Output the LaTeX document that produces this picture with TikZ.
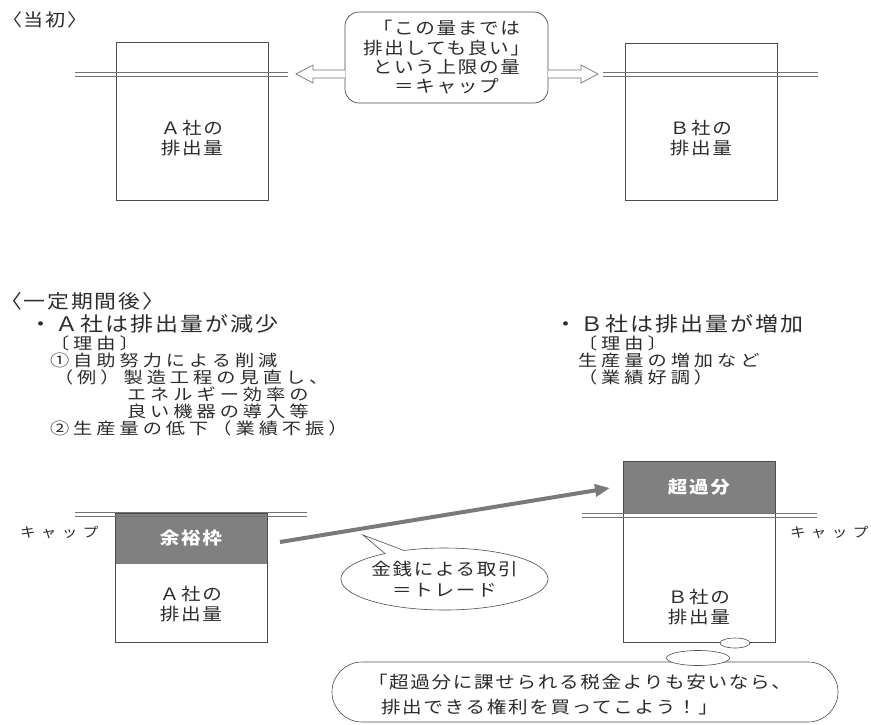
\documentclass[tikz,border=0pt]{standalone}
\usepackage{fontspec}
\setmainfont{Noto Sans CJK JP}
\newfontfamily\jp[FakeStretch=1.15,LetterSpace=10]{Noto Sans CJK JP}
\newfontfamily\jpb[FakeStretch=1.2,LetterSpace=25]{Noto Sans CJK JP}
\newfontfamily\jpw[FakeStretch=1.15,LetterSpace=40]{Noto Sans CJK JP}
\usetikzlibrary{shapes.callouts,shapes.geometric,arrows.meta,calc}
\definecolor{ink}{gray}{0.17}
\definecolor{edge}{gray}{0.3}
\definecolor{capc}{gray}{0.45}
\definecolor{darkfill}{gray}{0.5}
\begin{document}
\begin{tikzpicture}[x=1pt,y=-1pt,
  every node/.style={inner sep=0pt, outer sep=0pt, text=ink},
  ttitle/.style={font=\jp\fontsize{17.5}{18}\selectfont},
  tperiod/.style={font=\jp\fontsize{19}{20}\selectfont},
  tbody/.style={font=\jpb\fontsize{16}{17}\selectfont},
  thead/.style={font=\jp\fontsize{20}{22}\selectfont},
  tbox/.style={font=\jp\fontsize{17}{20.5}\selectfont, align=center},
  tcap/.style={font=\jpw\fontsize{13.5}{16}\selectfont},
  twhite/.style={font=\jp\bfseries\fontsize{17}{20}\selectfont, text=white},
  tbub/.style={font=\jp\fontsize{17}{25}\selectfont, align=left},
  emitbox/.style={draw=edge, line width=0.8pt, anchor=north west, minimum width=152pt},
  darkbox/.style={fill=darkfill, anchor=north west, minimum width=152pt},
  capline/.style={draw=capc, line width=0.6pt},
  hollow/.style={draw=capc, line width=0.7pt, fill=white, line join=miter},
  capbubble/.style={draw=edge, line width=0.7pt, rounded corners=14pt, minimum width=203pt, minimum height=91pt, font=\jp\fontsize{17}{19.3}\selectfont, align=center},
  trade/.style={line width=4pt, draw=black!52, -{Triangle[length=15pt,width=12pt]}},
  thoughtc/.style={draw=edge, line width=0.6pt, fill=white, ellipse},
]
\useasboundingbox (0,0) rectangle (871,724);

% ---------- top part ----------
\node[ttitle, anchor=west] (tousho) at (2,20) {〈当初〉};

\node[emitbox, minimum height=158pt] (boxA0) at (116,42) {};
\node[tbox] (labA0) at (192,138) {Ａ社の\\排出量};
\node[emitbox, minimum height=157pt] (boxB0) at (625,43) {};
\node[tbox] (labB0) at (701,138) {Ｂ社の\\排出量};

\draw[capline] (75,72) -- (288,72) (75,76) -- (288,76);
\draw[capline] (603,72) -- (818,72) (603,76) -- (818,76);

\node[capbubble] (capbox) at (446.5,57.5) {「この量までは\\排出しても良い」\\という上限の量\\＝キャップ};

\coordinate (tipL) at (296,74);
\coordinate (tipR) at (598,74);
\draw[hollow] (capbox.west |- 0,70) -- (313,70) -- (313,65) -- (tipL) -- (313,83) -- (313,78) -- (capbox.west |- 0,78);
\draw[hollow] (capbox.east |- 0,70) -- (581,70) -- (581,65) -- (tipR) -- (581,83) -- (581,78) -- (capbox.east |- 0,78);

% ---------- bottom part ----------
\node[tperiod, anchor=west] (period) at (0,301) {〈一定期間後〉};

\node[thead, anchor=west] (headA) at (29,324) {・\hspace{4pt}Ａ社は排出量が減少};
\node[thead, anchor=west] (headB) at (554,324) {・\hspace{4pt}Ｂ社は排出量が増加};

\node[tbody, align=left, anchor=north west] (reasonA) at (50,336)
  {〔理由〕\\①自助努力による削減\\\hspace*{4pt}（例）\hspace*{4pt}製造工程の見直し、\\\hspace*{77pt}エネルギー効率の\\\hspace*{77pt}良い機器の導入等\\②生産量の低下（業績不振）};
\node[tbody, align=left, anchor=north west] (reasonB) at (578,336)
  {〔理由〕\\生産量の増加など\\（業績好調）};

% company A after
\node[darkbox, minimum height=51pt, twhite] (yoyu) at (115,513) {余裕枠};
\node[emitbox, minimum height=129pt] (boxA1) at (115,513) {};
\node[tbox] (labA1) at (191,604) {Ａ社の\\排出量};
\draw[capline] (75,512) -- (307,512) (75,516) -- (307,516);
\node[tcap, anchor=west] (capLblA) at (20,532) {キャップ};

% company B after
\node[darkbox, minimum height=52pt, twhite] (chouka) at (623,461) {超過分};
\node[emitbox, minimum height=181pt] (boxB1) at (623,461) {};
\node[tbox] (labB1) at (699,607) {Ｂ社の\\排出量};
\draw[capline] (582,513) -- (817,513) (582,517) -- (817,517);
\node[tcap, anchor=west] (capLblB) at (790,532) {キャップ};

% trade arrow
\coordinate (trS) at (280,542);
\coordinate (trE) at (610,488);
\draw[trade] (trS) -- (trE);

\coordinate (trTip) at (363,535);
\node[ellipse callout, draw=edge, line width=0.6pt, fill=white, minimum width=205pt, minimum height=62pt,
      callout absolute pointer={(trTip)}, callout pointer arc=12, tbox] (tradebub) at (444.5,579)
  {金銭による取引\\＝トレード};

% thought bubble
\node[draw=edge, line width=0.6pt, fill=white, rounded corners=30pt, minimum width=506pt, minimum height=60pt] (thought) at (585,692) {};
\node[thoughtc, minimum width=63pt, minimum height=15pt] (th2) at (698,658) {};
\node[thoughtc, minimum width=30pt, minimum height=10pt] (th1) at (735,643) {};
\node[tbub, anchor=west] (thtext) at (368,695)
  {「超過分に課せられる税金よりも安いなら、\\\hspace*{13pt}排出できる権利を買ってこよう！」};
\end{tikzpicture}
\end{document}
